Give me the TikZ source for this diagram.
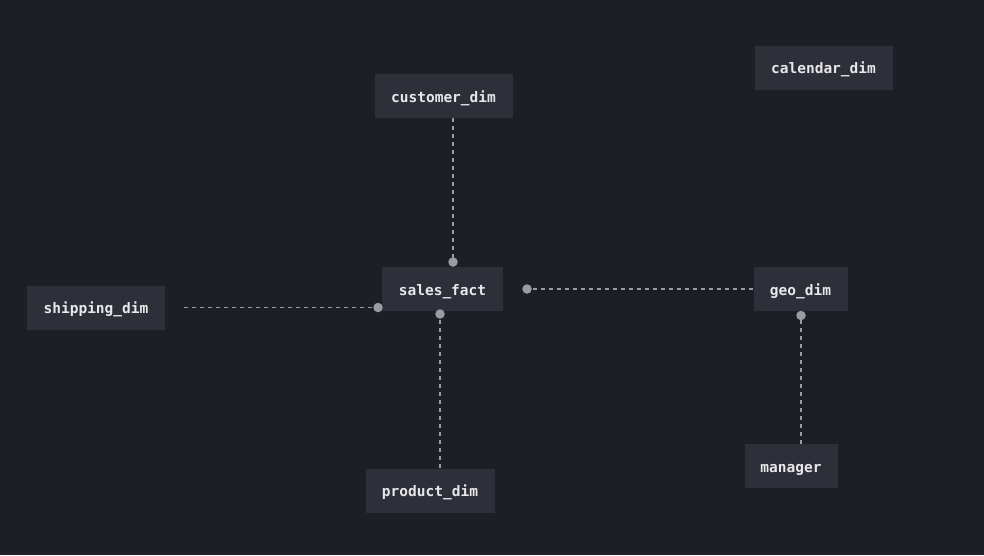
\documentclass[tikz,border=0pt]{standalone}
\usepackage{fontspec}
\setmonofont{DejaVu Sans Mono}
\definecolor{bg}{HTML}{1E1F24}
\definecolor{boxfill}{HTML}{2D2F39}
\definecolor{txt}{HTML}{E8E8EA}
\definecolor{edge}{HTML}{9A9CA3}
\tikzset{
  tbl/.style={fill=boxfill, draw=none, text=txt, inner sep=0pt, minimum height=44pt,
    text height=12pt, text depth=0pt,
    font=\ttfamily\bfseries\fontsize{14.5}{16}\selectfont},
  rel/.style={draw=edge, line width=1.4pt, dash pattern=on 4pt off 4pt},
  enddot/.style={fill=edge, draw=none, circle, inner sep=0pt, minimum size=9.5pt}
}
\begin{document}
\begin{tikzpicture}[x=1pt,y=-1pt]
\fill[bg] (0,0) rectangle (984,555);
\useasboundingbox (0,0) rectangle (984,555);
\node[tbl, minimum width=138pt] (customer) at (443.5,96) {customer\_dim};
\node[tbl, minimum width=138pt] (calendar) at (823.5,67.5) {calendar\_dim};
\node[tbl, minimum width=121pt] (sales) at (442.5,289) {sales\_fact};
\node[tbl, minimum width=138pt] (shipping) at (96,307.5) {shipping\_dim};
\node[tbl, minimum width=94pt] (geo) at (800.5,289) {geo\_dim};
\node[tbl, minimum width=93pt] (manager) at (791,466) {manager};
\node[tbl, minimum width=129pt] (product) at (430,490.5) {product\_dim};
% endpoints
\node[enddot] (d1) at (453,262) {};
\node[enddot] (d2) at (527,289) {};
\node[enddot] (d3) at (378,307.5) {};
\node[enddot] (d4) at (440,314) {};
\node[enddot] (d5) at (801,315.5) {};
\coordinate (c1) at (453,118);
\coordinate (c3) at (184,307.5);
\coordinate (c4) at (440,468);
\coordinate (c5) at (801,444);
\draw[rel] (c1) -- (d1.center);
\draw[rel] (geo.west) -- (d2.center);
\draw[rel] (c3) -- (d3.center);
\draw[rel] (c4) -- (d4.center);
\draw[rel] (c5) -- (d5.center);
\end{tikzpicture}
\end{document}
